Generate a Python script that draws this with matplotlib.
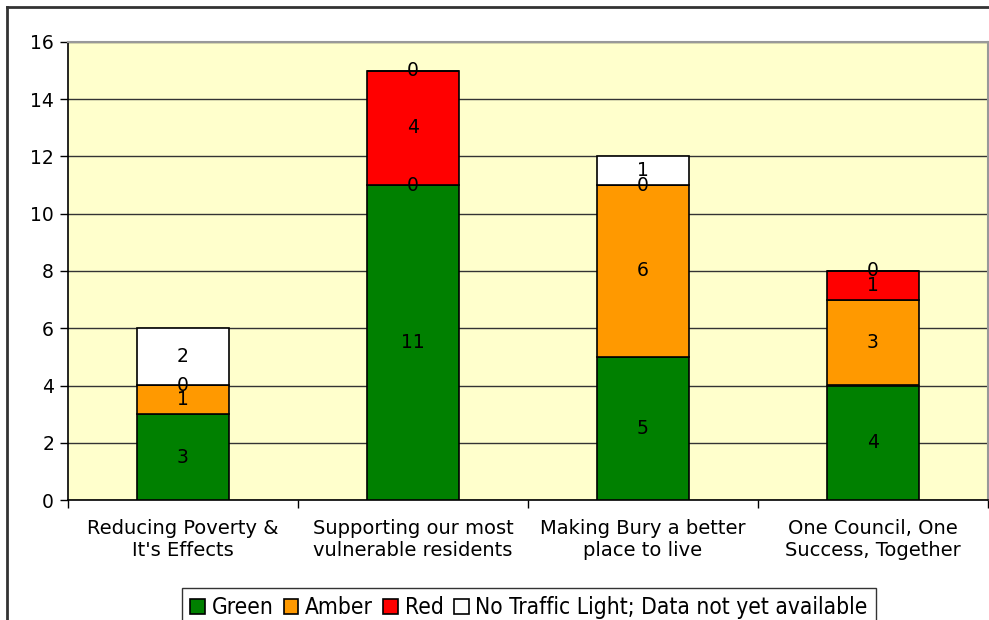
import numpy as np
import matplotlib
matplotlib.use("Agg")
import matplotlib.pyplot as plt
from matplotlib.lines import Line2D
from matplotlib.font_manager import FontProperties

categories = ["Reducing Poverty &\nIt's Effects",
              "Supporting our most\nvulnerable residents",
              "Making Bury a better\nplace to live",
              "One Council, One\nSuccess, Together"]
series_names = ["Green", "Amber", "Red", "No Traffic Light; Data not yet available"]
green = [3, 11, 5, 4]
amber = [1, 0, 6, 3]
red = [0, 4, 0, 1]
no_light = [2, 0, 1, 0]
colours = ["#008000", "#FF9900", "#FF0000", "#FFFFFF"]

plt.rcParams['font.family'] = ['DejaVu Sans']

fig = plt.figure(figsize=(9.89, 6.2), dpi=100)
ax = fig.add_axes([68/989, 1-500/620, 920/989, 458/620])
ax.set_facecolor("#FFFFCC")

x = np.arange(len(categories))
bottom = np.zeros(len(categories))
for name, vals, col in zip(series_names, [green, amber, red, no_light], colours):
    vals = np.array(vals, dtype=float)
    ax.bar(x, vals, 0.4, bottom=bottom, color=col, edgecolor="black",
           linewidth=1.2, label=name, zorder=3)
    for xi, b, v in zip(x, bottom, vals):
        ax.text(xi, b + v/2, "%d" % v, ha="center", va="center",
                fontsize=13.5, color="black", zorder=4)
    bottom = bottom + vals

ax.set_xlim(-0.5, len(categories) - 0.5)
ax.set_ylim(0, 16)
ax.set_yticks(range(0, 17, 2))
ax.yaxis.grid(True, color="#333333", linewidth=1.0)
ax.set_axisbelow(True)

ax.set_xticks(x)
ax.set_xticklabels(categories, fontsize=14)
ax.tick_params(axis="x", length=0, pad=14)
ax.set_xticks(np.arange(-0.5, len(categories)), minor=True)
ax.tick_params(axis="x", which="minor", length=6, width=1, color="black")
ax.tick_params(axis="y", labelsize=13.5, length=6, width=1, direction="out", pad=4)

for s in ["top", "right"]:
    ax.spines[s].set_color("#999999")
    ax.spines[s].set_linewidth(1.5)
for s in ["left", "bottom"]:
    ax.spines[s].set_color("black")
    ax.spines[s].set_linewidth(1.2)

legend_font = FontProperties(family="DejaVu Sans", stretch="condensed", size=16.3)
leg = fig.legend(loc="lower center", bbox_to_anchor=(529/989, -0.03), ncol=4,
                 prop=legend_font, frameon=True, fancybox=False, edgecolor="black",
                 handlelength=0.65, handleheight=0.65, handletextpad=0.3,
                 columnspacing=0.45, borderpad=0.35)
leg.get_frame().set_linewidth(1.0)

# chart border (only top and left visible in the crop)
fig.add_artist(Line2D([7/989, 1], [1-7/620, 1-7/620], color="#333333", linewidth=2,
                      transform=fig.transFigure))
fig.add_artist(Line2D([7/989, 7/989], [0, 1-7/620], color="#333333", linewidth=2,
                      transform=fig.transFigure))

fig.savefig("out.png", dpi=100)
